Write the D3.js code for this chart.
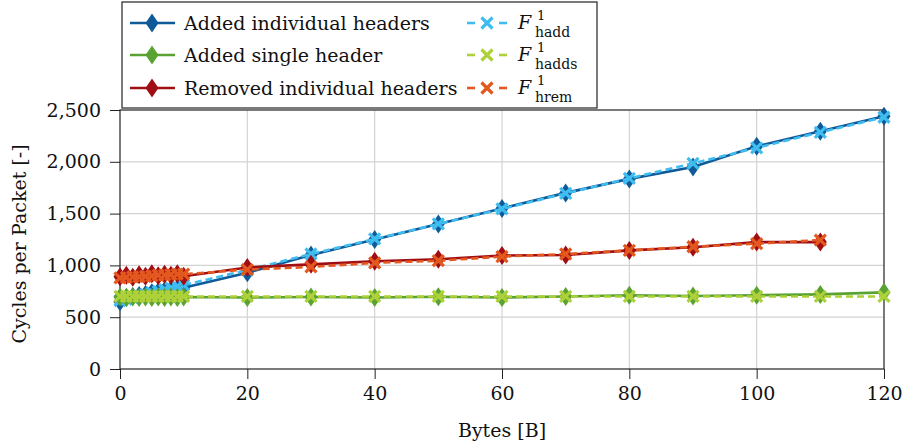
<!DOCTYPE html>
<html>
<head>
<meta charset="utf-8">
<script src="https://cdn.jsdelivr.net/npm/d3@7"></script>
<style>
  body { margin: 0; background: #fff; }
  text { font-family: "DejaVu Serif", serif; fill: #111; }
</style>
</head>
<body>
<div id="chart"></div>
<script>
// x values (bytes)
const bytesAdd = [0, 1, 2, 3, 4, 5, 6, 7, 8, 9, 10, 20, 30, 40, 50, 60, 70, 80, 90, 100, 110, 120];
const bytesRem = [0, 1, 2, 3, 4, 5, 6, 7, 8, 9, 10, 20, 30, 40, 50, 60, 70, 80, 90, 100, 110];

// measured cycles per packet
const addedIndividual = [650, 690, 700, 710, 720, 735, 745, 755, 765, 775, 785, 930, 1100, 1250, 1400, 1550, 1700, 1835, 1950, 2150, 2295, 2440];
const addedSingle = [695, 690, 695, 690, 695, 690, 695, 690, 695, 690, 695, 690, 695, 690, 698, 690, 700, 712, 705, 712, 720, 740];
const removedIndividual = [890, 905, 885, 910, 895, 920, 900, 915, 905, 920, 895, 980, 1010, 1040, 1060, 1095, 1100, 1145, 1175, 1225, 1225];

// model values
const modelHadd = [660, 675, 690, 705, 720, 735, 750, 765, 780, 795, 810, 955, 1110, 1255, 1400, 1545, 1695, 1840, 1985, 2135, 2285, 2430];
const modelHadds = [700, 700, 700, 700, 700, 700, 700, 700, 700, 700, 700, 700, 700, 700, 700, 700, 700, 700, 700, 700, 700, 700];
const modelHrem = [880, 885, 890, 890, 895, 900, 905, 905, 910, 915, 915, 960, 985, 1025, 1045, 1085, 1110, 1145, 1180, 1210, 1245];

const xTicks = [0, 20, 40, 60, 80, 100, 120];
const yTicks = [0, 500, 1000, 1500, 2000, 2500];

const series = [
  {name: "Added individual headers", x: bytesAdd, y: addedIndividual, color: "#0f5a98", marker: "diamond", dash: null},
  {name: "hadd", x: bytesAdd, y: modelHadd, color: "#40bdf0", marker: "cross", dash: "7,4"},
  {name: "Added single header", x: bytesAdd, y: addedSingle, color: "#5aa333", marker: "diamond", dash: null},
  {name: "hadds", x: bytesAdd, y: modelHadds, color: "#aed13a", marker: "cross", dash: "7,4"},
  {name: "Removed individual headers", x: bytesRem, y: removedIndividual, color: "#a00d12", marker: "diamond", dash: null},
  {name: "hrem", x: bytesRem, y: modelHrem, color: "#e2581f", marker: "cross", dash: "7,4"}
];

const width = 902, height = 448;
const margin = {top: 110, right: 18, bottom: 79, left: 120};
const innerW = width - margin.left - margin.right;
const innerH = height - margin.top - margin.bottom;
const fontSize = 19;

const svg = d3.select("#chart").append("svg")
    .attr("width", width)
    .attr("height", height);

const g = svg.append("g")
    .attr("transform", `translate(${margin.left},${margin.top})`);

const xScale = d3.scaleLinear().domain([0, 120]).range([0, innerW]);
const yScale = d3.scaleLinear().domain([0, 2500]).range([innerH, 0]);

// grid
g.append("g").selectAll("line").data(xTicks.slice(1, -1)).enter().append("line")
  .attr("x1", d => xScale(d)).attr("x2", d => xScale(d))
  .attr("y1", 0).attr("y2", innerH)
  .attr("stroke", "#d3d3d3").attr("stroke-width", 1.2);
g.append("g").selectAll("line").data(yTicks.slice(1, -1)).enter().append("line")
  .attr("y1", d => yScale(d)).attr("y2", d => yScale(d))
  .attr("x1", 0).attr("x2", innerW)
  .attr("stroke", "#d3d3d3").attr("stroke-width", 1.2);

// axes
const xAxis = d3.axisBottom(xScale).tickValues(xTicks).tickSize(10).tickPadding(8);
const yAxis = d3.axisLeft(yScale).tickValues(yTicks).tickSize(10).tickPadding(9).tickFormat(d3.format(","));

const xAxisG = g.append("g").attr("transform", `translate(0,${innerH})`).call(xAxis);
const yAxisG = g.append("g").call(yAxis);
[xAxisG, yAxisG].forEach(a => {
  a.select(".domain").remove();
  a.selectAll(".tick line").attr("stroke", "#222");
  a.selectAll("text").attr("font-size", fontSize).attr("fill", "#111");
});

// frame
g.append("rect")
  .attr("x", 0).attr("y", 0).attr("width", innerW).attr("height", innerH)
  .attr("fill", "none").attr("stroke", "#222").attr("stroke-width", 1.2);

// axis titles
svg.append("text")
  .attr("x", margin.left + innerW / 2).attr("y", 437)
  .attr("text-anchor", "middle").attr("font-size", fontSize)
  .text("Bytes [B]");
svg.append("text")
  .attr("transform", "translate(26,244) rotate(-90)")
  .attr("text-anchor", "middle").attr("font-size", fontSize)
  .text("Cycles per Packet [-]");

const diamond = "M0,-9.5L6.5,0L0,9.5L-6.5,0Z";
const cross = "M-5.5,-5.5L5.5,5.5M-5.5,5.5L5.5,-5.5";

function drawMarker(sel, s) {
  if (s.marker === "diamond") {
    sel.append("path").attr("d", diamond).attr("fill", s.color);
  } else {
    sel.append("path").attr("d", cross).attr("fill", "none")
      .attr("stroke", s.color).attr("stroke-width", 3.2);
  }
}

const line = d3.line().x(d => xScale(d[0])).y(d => yScale(d[1]));

series.forEach(s => {
  const pts = s.x.map((x, i) => [x, s.y[i]]);
  g.append("path")
    .attr("d", line(pts))
    .attr("fill", "none")
    .attr("stroke", s.color)
    .attr("stroke-width", 2.6)
    .attr("stroke-dasharray", s.dash);
  g.append("g").selectAll("g").data(pts).enter().append("g")
    .attr("transform", d => `translate(${xScale(d[0])},${yScale(d[1])})`)
    .each(function() { drawMarker(d3.select(this), s); });
});

// legend
const legend = svg.append("g");
legend.append("rect")
  .attr("x", 122).attr("y", 2).attr("width", 475).attr("height", 106)
  .attr("fill", "#fff").attr("stroke", "#222").attr("stroke-width", 1.2);

const rowsY = [23, 55, 88];
const measured = [series[0], series[2], series[4]];
const models = [series[1], series[3], series[5]];

measured.forEach((s, i) => {
  const row = legend.append("g").attr("transform", `translate(0,${rowsY[i]})`);
  row.append("line").attr("x1", 130).attr("x2", 175).attr("y1", 0).attr("y2", 0)
    .attr("stroke", s.color).attr("stroke-width", 2.6);
  drawMarker(row.append("g").attr("transform", "translate(152,0)"), s);
  row.append("text").attr("x", 184).attr("y", 6.5).attr("font-size", fontSize).text(s.name);
});

models.forEach((s, i) => {
  const row = legend.append("g").attr("transform", `translate(0,${rowsY[i]})`);
  row.append("line").attr("x1", 467).attr("x2", 475).attr("y1", 0).attr("y2", 0)
    .attr("stroke", s.color).attr("stroke-width", 2.6);
  row.append("line").attr("x1", 499).attr("x2", 507).attr("y1", 0).attr("y2", 0)
    .attr("stroke", s.color).attr("stroke-width", 2.6);
  drawMarker(row.append("g").attr("transform", "translate(487,0)"), s);
  row.append("text").attr("x", 518).attr("y", 5.5).attr("font-size", fontSize)
    .attr("font-style", "italic").text("F");
  row.append("text").attr("x", 537).attr("y", -3).attr("font-size", 13).text("1");
  row.append("text").attr("x", 535).attr("y", 13.5).attr("font-size", 14).text(s.name);
});
</script>
</body>
</html>
